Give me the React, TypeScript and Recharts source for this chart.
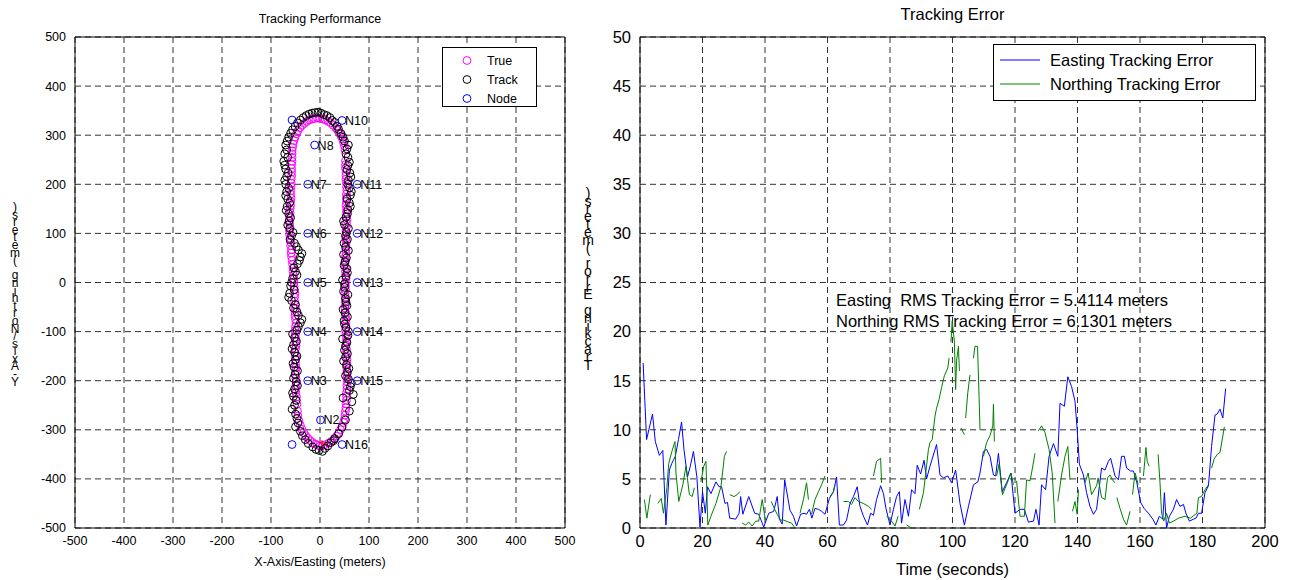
import React from 'react';
import {
  ScatterChart, Scatter, LineChart, Line, XAxis, YAxis, CartesianGrid, ReferenceArea,
} from 'recharts';

const FONT = '"Liberation Sans", Arial, Helvetica, sans-serif';

// ---- left panel: tracking performance ----
const posTicks = [-500, -400, -300, -200, -100, 0, 100, 200, 300, 400, 500];

const trueX = [
  0, 12, 24, 34, 42, 48, 51, 53,
  54, 54, 55, 55, 55, 55, 54, 54, 54, 53, 53, 53, 52, 52, 52, 52, 52, 52, 52, 52, 53, 53, 53, 53, 54, 54, 54, 54, 54, 54, 53, 53, 52,
  51, 48, 43, 36, 27, 17, 6, -5, -16, -27, -37, -45, -51, -55, -57,
  -57, -58, -58, -59, -59, -60, -60, -61, -62, -62, -62, -61, -60, -59, -57, -55, -54, -53, -52, -52, -51, -51, -50, -50, -50, -50, -50, -50, -50, -50, -49, -49, -49, -48,
  -46, -43, -37, -29, -20, -10,
  53, 54, 55, 56, 55, 54, 55, 54, 53, 54, 52, 53, 52, 51, 52, 51, 52, 53, 52, 51, 52, 53, 54, 53, 54, 55, 54, 53, 54, 55, 54, 53, 52, 52,
  50, 46, 40, 32, 22, 11, 0, -11, -22, -32, -41, -48, -53, -56,
  -57, -57, -58, -58, -59, -60, -59, -60, -61, -63, -61, -62, -60, -58, -58, -56, -55, -53, -53, -51, -52, -50, -51, -49, -51, -50, -49, -51, -50, -49, -50, -48, -50, -48, -47,
  -45, -40, -33, -25, -15, -5, 6, 18, 29, 38, 45, 50, 52,
];
const trueY = [
  -333, -330, -323, -313, -300, -285, -270, -255,
  -240, -225, -210, -195, -180, -165, -150, -135, -120, -105, -90, -75, -60, -45, -30, -15, 0, 15, 30, 45, 60, 75, 90, 105, 120, 135, 150, 165, 180, 195, 210, 225, 240,
  270, 285, 298, 310, 320, 328, 333, 335, 333, 328, 320, 309, 296, 282, 268,
  255, 240, 225, 210, 195, 180, 165, 150, 135, 120, 105, 90, 75, 60, 45, 30, 15, 0, -15, -30, -45, -60, -75, -90, -105, -120, -135, -150, -165, -180, -195, -210, -225, -240,
  -262, -282, -299, -312, -322, -329,
  -247, -232, -217, -202, -187, -172, -157, -142, -127, -112, -97, -82, -67, -52, -37, -22, -7, 8, 23, 38, 53, 68, 83, 98, 113, 128, 143, 158, 173, 188, 203, 218, 233, 248,
  278, 292, 304, 315, 325, 331, 334, 334, 331, 324, 315, 303, 289, 275,
  262, 247, 232, 217, 202, 187, 172, 157, 142, 127, 112, 97, 82, 67, 52, 37, 22, 7, -8, -23, -38, -53, -68, -83, -98, -113, -128, -143, -158, -173, -188, -203, -218, -233, -248,
  -272, -291, -306, -317, -326, -331, -332, -327, -318, -307, -293, -278, -262,
];

const trackX = [
  -2, 10, 22, 30, 38, 45, 52, 60,
  65, 68, 62, 58, 56, 54, 52, 50, 55, 57, 53, 49, 51, 55, 52, 48, 50, 53, 55, 51, 48, 52, 56, 54, 50, 53, 57, 60, 62, 60, 58, 61, 57,
  57, 55, 50, 43, 35, 25, 14, 2, -10, -22, -34, -46, -56, -64, -70,
  -72, -74, -70, -68, -70, -68, -66, -67, -64, -63, -62, -58, -52, -44, -40, -46, -50, -56, -60, -62, -58, -54, -44, -40, -47, -52, -54, -52, -50, -53, -51, -49, -52, -54,
  -52, -50, -45, -40, -30, -15,
  47, 60, 64, 52, 59, 48, 56, 52, 46, 58, 50, 56, 47, 53, 57, 50, 46, 56, 49, 54, 58, 49, 52, 58, 48, 56, 62, 55, 64, 57, 63, 55, 60, 53, 58,
  47, 38, 30, 20, 8, -4, -16, -28, -40, -51, -60, -67,
  -68, -66, -72, -65, -72, -64, -70, -62, -69, -60, -66, -55, -61, -48, -37, -42, -53, -47, -58, -53, -64, -50, -47, -37, -44, -56, -48, -57, -47, -55, -46, -54, -46, -56, -49,
  -57, -47, -50, -36, -24, -8, 5, 16, 28,
];
const trackY = [
  -342, -338, -326, -318, -308, -295, -280, -262,
  -243, -228, -212, -197, -183, -168, -152, -138, -122, -108, -92, -78, -62, -47, -33, -18, -3, 12, 28, 42, 57, 72, 88, 102, 118, 133, 148, 162, 178, 193, 208, 223, 238,
  255, 272, 288, 303, 318, 330, 340, 345, 346, 343, 336, 325, 311, 296, 280,
  262, 247, 231, 216, 200, 185, 170, 155, 140, 125, 110, 95, 80, 66, 52, 38, 22, 8, -7, -22, -37, -52, -67, -82, -97, -112, -127, -142, -157, -172, -187, -202, -217, -232,
  -250, -268, -286, -303, -320, -335,
  -235, -220, -205, -190, -175, -160, -145, -130, -115, -100, -85, -70, -55, -40, -25, -10, 5, 20, 35, 50, 65, 80, 95, 110, 125, 140, 155, 170, 185, 200, 215, 230, 245, 262, 280,
  296, 312, 326, 336, 342, 347, 345, 340, 331, 318, 304, 288,
  270, 255, 239, 223, 208, 192, 177, 162, 147, 132, 117, 102, 87, 73, 59, 45, 30, 15, 0, -15, -30, -45, -60, -75, -90, -105, -120, -135, -150, -165, -180, -195, -210, -225, -240,
  -258, -277, -294, -312, -328, -340, -344, -333, -322,
];

const nodeNames = ['', 'N2', 'N3', 'N4', 'N5', 'N6', 'N7', 'N8', '', 'N10', 'N11', 'N12', 'N13', 'N14', 'N15', 'N16'];
const nodeX = [-57, 1, -25, -25, -25, -25, -25, -11, -57, 45, 76, 76, 76, 76, 76, 45];
const nodeY = [-330, -280, -200, -100, 0, 100, 200, 280, 331, 330, 200, 100, 0, -100, -200, -330];

const startX = [4];
const startY = [-327];

// ---- right panel: tracking error ----
const timeTicks = [0, 20, 40, 60, 80, 100, 120, 140, 160, 180, 200];
const errTicks = [0, 5, 10, 15, 20, 25, 30, 35, 40, 45, 50];

const eastTime = [
  1.0, 2.1, 2.9, 4.0, 4.9, 6.2, 7.3, 8.3, 9.4, 10.2, 11.3, 12.3, 13.3, 14.1, 15.2, 16.1, 17.1, 18.2, 19.2, 20.0,
  20.9, 21.6, 22.7, 24.3, 25.3, 26.1, 27.2, 28.0, 28.7, 30.6, 31.7, 32.2, 32.9, 34.8, 36.7, 38.0, 39.6, 41.2, 42.8, 43.9,
  44.6, 45.5, 46.3, 48.0, 49.1, 50.1, 51.4, 52.5, 53.3, 54.2, 55.0, 56.0, 57.1, 58.1, 59.2, 60.6, 61.9, 62.9, 63.8, 65.1,
  66.1, 67.2, 68.3, 69.5, 70.4, 71.5, 72.8, 73.8, 74.7, 75.7, 77.0, 77.9, 78.7, 80.0, 81.1, 82.1, 83.0, 83.7, 84.8, 85.9,
  86.9, 88.0, 88.7, 89.8, 90.9, 91.7, 92.8, 94.9, 96.0, 97.1, 98.5, 99.7, 101.0, 102.4, 103.8, 105.1, 106.7, 108.1, 108.8, 109.9,
  110.9, 112.0, 113.1, 113.8, 114.7, 115.9, 117.3, 118.7, 120.0, 121.6, 123.0, 124.3, 125.9, 126.7, 127.7, 128.5, 129.8, 130.9, 132.3, 133.7,
  134.4, 135.8, 136.9, 138.1, 139.2, 139.9, 140.6, 141.9, 142.9, 144.0, 145.1, 146.1, 147.7, 148.8, 149.9, 150.6, 152.0, 153.1, 154.1, 155.0,
  155.7, 157.0, 157.9, 159.0, 160.2, 161.3, 162.7, 164.1, 165.1, 166.2, 167.3, 167.8, 168.5, 169.4, 170.7, 171.7, 172.8, 173.9, 174.7, 175.8,
  177.1, 177.9, 178.7, 179.7, 180.8, 181.9, 182.9, 184.0, 184.7, 185.6, 186.5, 187.4,
];
const eastErr = [
  16.8, 9.0, 10.1, 11.6, 8.8, 7.4, 7.9, 0.3, 5.9, 6.6, 7.3, 9.0, 10.8, 7.9, 5.2, 6.3, 7.8, 5.2, 0.1, 3.7,
  1.5, 4.2, 3.5, 4.7, 4.2, 4.2, 2.5, 2.6, 1.0, 0.9, 1.5, 3.2, 1.4, 3.2, 1.5, 1.4, 0.1, 1.5, 1.7, 3.2,
  0.9, 0.4, 4.9, 1.8, 1.2, 0.2, 1.4, 1.5, 1.4, 1.9, 1.0, 2.0, 1.9, 1.7, 1.4, 3.0, 3.7, 5.2, 0.3, 0.3,
  0.8, 2.5, 3.2, 4.2, 2.2, 1.2, 0.3, 1.5, 1.3, 2.9, 4.3, 3.5, 2.0, 0.3, 1.9, 3.2, 3.7, 0.5, 2.9, 1.2,
  3.9, 3.5, 6.4, 5.5, 6.9, 5.0, 6.3, 8.5, 5.4, 5.1, 5.3, 4.6, 5.9, 2.5, 0.3, 2.2, 4.4, 4.7, 5.6, 7.8,
  8.0, 7.3, 5.4, 5.3, 7.6, 3.7, 4.6, 5.6, 1.5, 1.9, 1.9, 0.6, 0.7, 1.9, 0.3, 4.4, 3.9, 7.3, 8.6, 7.3,
  12.7, 12.4, 15.4, 14.4, 12.9, 10.0, 6.5, 5.4, 3.6, 2.2, 1.4, 1.9, 6.1, 5.9, 6.8, 7.1, 5.3, 4.9, 7.3, 7.3,
  6.1, 5.8, 5.8, 4.6, 2.6, 2.0, 1.5, 0.9, 0.3, 1.2, 0.9, 3.6, 0.0, 1.2, 1.9, 2.9, 2.2, 2.4, 1.5, 0.7,
  0.9, 1.0, 1.5, 1.5, 3.6, 4.3, 8.3, 11.5, 11.6, 12.1, 11.2, 14.2,
];

const northTime = [
  1.4, 2.2, 3.3, 4.5, 5.7, 6.8, 7.5, 8.6, 9.2, 10.3, 11.2, 11.5, 12.4, 13.7, 14.7, 15.8, 16.7, 17.4, 18.5, 19.5,
  20.4, 21.1, 21.7, 22.7, 24.3, 25.9, 27.0, 27.7, 28.2, 28.7, 30.1, 31.1, 31.9, 32.3, 32.7, 33.8, 34.8, 35.9, 37.0, 38.0,
  39.1, 40.1, 41.0, 42.0, 43.1, 43.9, 45.0, 46.0, 47.5, 48.5, 49.6, 50.4, 51.2, 52.3, 53.3, 53.9, 54.4, 54.9, 56.0, 57.1,
  58.1, 59.2, 60.0, 60.8, 61.9, 62.4, 63.5, 65.1, 66.7, 67.7, 68.8, 69.9, 71.5, 73.1, 74.1, 74.4, 74.7, 75.7, 77.0, 77.3,
  78.0, 78.9, 80.5, 81.6, 82.6, 83.5, 85.3, 86.9, 88.0, 89.4, 90.7, 92.3, 92.8, 93.5, 94.4, 94.9, 95.7, 96.5, 97.4, 98.5,
  98.9, 99.2, 99.5, 99.9, 100.6, 101.0, 101.3, 101.9, 102.2, 102.4, 102.7, 103.8, 104.0, 104.2, 104.9, 105.6, 106.2, 106.7, 107.2, 108.0,
  108.5, 108.8, 109.3, 109.9, 110.9, 112.0, 112.9, 113.1, 113.4, 113.8, 114.1, 114.9, 116.0, 117.3, 118.7, 119.5, 120.0, 120.5, 121.6, 123.0,
  123.7, 124.8, 125.3, 126.4, 127.0, 127.5, 128.5, 129.6, 130.9, 131.9, 132.8, 133.2, 133.7, 134.9, 136.0, 136.9, 137.6, 138.0, 138.4, 139.2,
  139.9, 140.3, 141.0, 142.4, 143.4, 144.5, 146.1, 146.6, 147.7, 148.8, 149.6, 150.4, 151.2, 152.0, 152.3, 152.6, 153.6, 154.7, 155.7, 156.8,
  157.2, 157.6, 158.4, 158.9, 159.4, 160.0, 161.1, 161.9, 162.3, 162.9, 164.0, 165.8, 166.4, 166.9, 167.6, 168.5, 169.4, 170.7, 172.3, 174.4,
  176.1, 178.2, 178.7, 179.7, 180.8, 181.9, 182.4, 182.9, 183.7, 184.7, 185.6, 187.0,
];
const northErr = [
  2.9, 1.0, 3.4, null, 2.5, 3.0, 1.5, 4.1, 6.6, 7.9, 8.8, 5.6, 2.7, 4.4, 6.3, 3.4, 3.2, 4.1, null, 4.7,
  6.3, 6.8, 0.3, 1.2, 2.5, 4.2, 7.3, 7.8, null, 3.4, 3.2, 3.4, 3.7, null, 0.5, 0.3, 0.6, 0.2, 0.7, 0.7,
  2.9, 0.8, null, 2.7, 1.9, 1.4, 0.8, 0.8, 0.6, 0.5, 0.0, null, 1.5, 2.9, 4.6, 2.9, null, 1.4, 2.9, 3.7,
  4.4, 5.3, null, 3.2, 3.7, 4.4, null, 2.7, 2.7, 2.4, 3.1, 2.7, 2.5, 2.2, 1.9, null, 5.3, 6.8, 7.1, 4.6,
  null, 1.2, 0.7, 0.2, 1.2, null, 0.3, 0.0, null, 1.9, 3.6, 8.0, 8.7, 9.0, 11.4, 12.2, 13.1, 14.3, 15.5, 16.3,
  17.3, null, 18.9, 21.1, 19.0, 14.1, 17.0, 18.5, 16.0, null, 10.2, 9.5, null, 11.2, 13.8, 15.6, null, 17.3, 18.5, 18.5,
  13.4, 10.0, null, 7.3, 8.7, 9.4, 10.4, 12.6, 8.8, null, 5.3, 6.5, 3.4, 4.4, 5.6, 4.4, null, 4.8, 1.2, 1.2,
  4.9, 4.8, 5.6, 7.6, null, 9.9, 10.4, 9.7, 8.0, 5.6, 0.5, null, 2.7, 5.4, 7.3, 8.3, 4.9, null, 1.7, 2.7,
  1.4, 3.9, null, 4.6, 5.6, 3.4, 4.3, 5.1, 3.1, 2.9, 5.1, 5.4, 4.9, 4.6, null, 3.1, 2.0, 0.9, 0.3, 1.7,
  null, 3.4, 5.6, 5.1, 4.4, null, 5.3, 8.2, 6.8, 6.3, null, 7.5, 4.6, 1.5, 0.7, 1.5, 0.5, 0.7, 1.0, 1.2,
  1.0, 1.5, 3.1, 3.2, 3.9, 4.4, null, 6.1, 7.0, 7.5, 7.7, 10.3,
];

const rmsLines = [
  'Easting  RMS Tracking Error = 5.4114 meters',
  'Northing RMS Tracking Error = 6.1301 meters',
];

const trueData = trueX.map((x, i) => ({ x, y: trueY[i] }));
const trackData = trackX.map((x, i) => ({ x, y: trackY[i] }));
const nodeData = nodeX.map((x, i) => ({ x, y: nodeY[i], name: nodeNames[i] }));
const startData = startX.map((x, i) => ({ x, y: startY[i] }));
const eastData = eastTime.map((t, i) => ({ t, v: eastErr[i] }));
const northData = northTime.map((t, i) => ({ t, v: northErr[i] }));

const ring = (color: string) => (p: any) =>
  <circle cx={p.cx} cy={p.cy} r={3.9} fill="none" stroke={color} strokeWidth={1} />;

const nodeShape = (p: any) => (
  <g>
    <circle cx={p.cx} cy={p.cy} r={3.9} fill="none" stroke="#0000ff" strokeWidth={1} />
    {p.payload.name ? (
      <text x={p.cx + 3} y={p.cy + 4.5} fontSize={12.5} fontFamily={FONT} fill="#000">{p.payload.name}</text>
    ) : null}
  </g>
);

const plusShape = (p: any) => (
  <g stroke="#ff0000" strokeWidth={1}>
    <line x1={p.cx - 3} y1={p.cy} x2={p.cx + 3} y2={p.cy} />
    <line x1={p.cx} y1={p.cy - 3} x2={p.cx} y2={p.cy + 3} />
  </g>
);

// matlab-style garbled vertical label: characters stacked, last char on top
function StackedLabel({ text, left, top, size, step }: { text: string; left: number; top: number; size: number; step: number }) {
  const stacked = text.split('').reverse().join('\n');
  return (
    <div style={{
      position: 'absolute', left, top, width: 20, marginLeft: -10, textAlign: 'center',
      fontSize: size, lineHeight: `${step}px`, fontFamily: FONT, color: '#000', whiteSpace: 'pre',
    }}>{stacked}</div>
  );
}

const gridProps = { stroke: '#333', strokeDasharray: '6 4', strokeWidth: 1 };

export default function App() {
  const leftTick = { fontSize: 12.5, fill: '#000', fontFamily: FONT };
  const rightTick = { fontSize: 16.5, fill: '#000', fontFamily: FONT };
  return (
    <div style={{ position: 'fixed', left: 0, top: 0, width: 1290, height: 580, background: '#fff', fontFamily: FONT }}>
      <div style={{ position: 'absolute', left: 0, top: 0 }}>
        <ScatterChart width={600} height={580} margin={{ top: 37, right: 35, bottom: 22, left: 30 }}>
          <CartesianGrid {...gridProps} />
          <XAxis type="number" dataKey="x" domain={[-500, 500]} ticks={posTicks} axisLine={false} tickLine={false}
            tick={leftTick} tickMargin={2} height={30} />
          <YAxis type="number" dataKey="y" domain={[-500, 500]} ticks={posTicks} axisLine={false} tickLine={false}
            tick={leftTick} tickMargin={3} width={45} />
          <ReferenceArea x1={-500} x2={500} y1={-500} y2={500} fill="none" stroke="#000" strokeWidth={1} />
          <Scatter data={trueData} shape={ring('#ff00ff')} isAnimationActive={false} />
          <Scatter data={trackData} shape={ring('#000000')} isAnimationActive={false} />
          <Scatter data={nodeData} shape={nodeShape} isAnimationActive={false} />
          <Scatter data={startData} shape={plusShape} isAnimationActive={false} />
        </ScatterChart>
      </div>
      <div style={{ position: 'absolute', left: 0, width: 640, top: 12, textAlign: 'center', fontSize: 12.5 }}>Tracking Performance</div>
      <div style={{ position: 'absolute', left: 0, width: 640, top: 555, textAlign: 'center', fontSize: 12.5 }}>X-Axis/Easting (meters)</div>
      <StackedLabel text="Y-Axis/Northing (meters)" left={15} top={204} size={12} step={7.6} />
      <div style={{ position: 'absolute', left: 442, top: 47, width: 93, height: 58, border: '1px solid #000', background: '#fff', fontSize: 12.5 }}>
        {[['True', '#ff00ff'], ['Track', '#000000'], ['Node', '#0000ff']].map(([name, color], i) => (
          <div key={name} style={{ position: 'absolute', left: 0, top: 3 + i * 19, height: 19, display: 'flex', alignItems: 'center' }}>
            <svg width={44} height={19}><circle cx={24} cy={9.5} r={3.9} fill="none" stroke={color} /></svg>
            <span>{name}</span>
          </div>
        ))}
      </div>

      <div style={{ position: 'absolute', left: 600, top: 0 }}>
        <LineChart width={690} height={580} margin={{ top: 37, right: 25, bottom: 22, left: 8 }}>
          <CartesianGrid {...gridProps} />
          <XAxis type="number" dataKey="t" domain={[0, 200]} ticks={timeTicks} axisLine={false} tickLine={false}
            tick={rightTick} tickMargin={1} height={30} allowDataOverflow />
          <YAxis type="number" domain={[0, 50]} ticks={errTicks} axisLine={false} tickLine={false}
            tick={rightTick} tickMargin={3} width={32} allowDataOverflow />
          <ReferenceArea x1={0} x2={200} y1={0} y2={50} fill="none" stroke="#000" strokeWidth={1} />
          <Line data={eastData} dataKey="v" stroke="#0000ff" strokeWidth={1} dot={false} isAnimationActive={false} />
          <Line data={northData} dataKey="v" stroke="#008000" strokeWidth={1} dot={false} isAnimationActive={false} />
        </LineChart>
      </div>
      <div style={{ position: 'absolute', left: 640, width: 625, top: 5, textAlign: 'center', fontSize: 16.5 }}>Tracking Error</div>
      <div style={{ position: 'absolute', left: 640, width: 625, top: 560, textAlign: 'center', fontSize: 16.5 }}>Time (seconds)</div>
      <StackedLabel text="Tracking Error (meters)" left={588} top={190} size={14} step={7.8} />
      {rmsLines.map((s, i) => (
        <div key={i} style={{ position: 'absolute', left: 836, top: 291 + i * 21, fontSize: 16.5, whiteSpace: 'pre' }}>{s}</div>
      ))}
      <div style={{ position: 'absolute', left: 993, top: 44, width: 261, height: 55, border: '1px solid #000', background: '#fff', fontSize: 16.5 }}>
        {[['Easting Tracking Error', '#0000ff'], ['Northing Tracking Error', '#008000']].map(([name, color], i) => (
          <div key={name} style={{ position: 'absolute', left: 0, top: 3 + i * 24, height: 24, display: 'flex', alignItems: 'center' }}>
            <svg width={56} height={24}><line x1={6} y1={12} x2={46} y2={12} stroke={color} strokeWidth={1} /></svg>
            <span>{name}</span>
          </div>
        ))}
      </div>
    </div>
  );
}
